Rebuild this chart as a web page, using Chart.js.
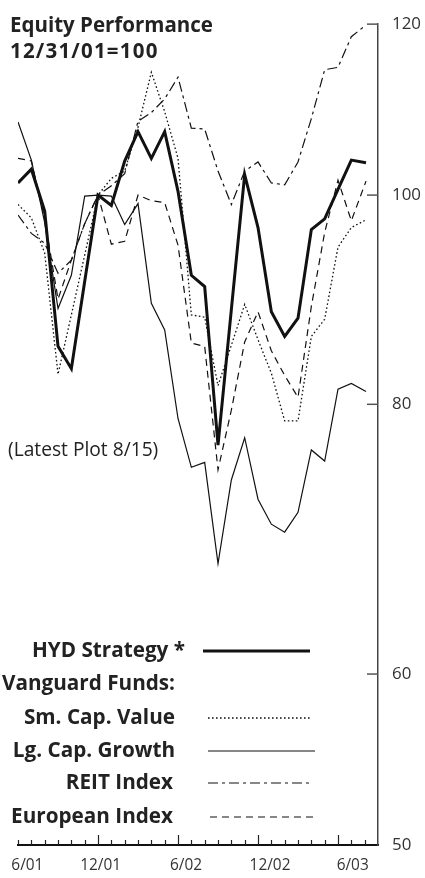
<!DOCTYPE html>
<html><head><meta charset="utf-8">
<style>html,body{margin:0;padding:0;background:#fff;}canvas{display:block;}</style>
<script src="https://cdn.jsdelivr.net/npm/chart.js@4.4.1/dist/chart.umd.min.js"></script>
</head><body>
<canvas id="c" width="425" height="878"></canvas>
<script>
// months since 6/30/01 (last point = latest plot 8/15/03)
const months = [0,1,2,3,4,5,6,7,8,9,10,11,12,13,14,15,16,17,18,19,20,21,22,23,24,25,26.1];
const hydStrategy   = [101.3,102.8,98.3,85.1,83.1,91.2,100,98.9,103.7,107.0,104.0,107.0,100.4,91.8,90.7,76.6,88.5,102.2,96.6,88.3,86.0,87.7,96.4,97.5,100.6,103.8,103.5];
const smCapValue    = [99.0,97.6,94.0,82.6,88.0,93.8,100,101.8,102.6,107.5,114.0,109.3,104.0,88.0,87.8,81.6,85.2,89.0,85.7,82.7,78.6,78.6,86.0,87.6,94.6,96.6,97.4];
const lgCapGrowth   = [108.1,103.8,97.1,88.6,91.8,99.9,100,99.9,96.9,99.1,89.1,86.6,78.8,74.8,75.2,67.5,73.8,77.2,72.3,70.4,69.8,71.3,76.2,75.3,81.3,81.8,81.1];
const reitIndex     = [97.9,96.0,95.0,92.0,93.3,97.0,100,101.0,102.3,108.2,109.2,110.8,113.4,107.4,107.3,102.6,99.0,102.6,103.6,101.3,101.1,103.6,108.5,114.3,114.6,118.4,119.9];
const europeanIndex = [104.0,103.7,97.5,89.5,93.3,97.0,100,94.9,95.2,100,99.4,99.2,94.8,85.4,85.1,74.6,79.5,85.5,88.3,84.7,82.5,80.6,88.8,96.1,101.6,97.3,101.5];
const seriesNames = ['HYD Strategy *','Sm. Cap. Value','Lg. Cap. Growth','REIT Index','European Index'];
const legendHeader = 'Vanguard Funds:';
const yTickValues = [50,60,80,100,120];
const xTickLabels = ['6/01','12/01','6/02','12/02','6/03'];
const xTickAt = [0.7,6.2,12.6,18.9,25.1];
const titleLines = ['Equity Performance','12/31/01=100'];
const noteText = '(Latest Plot 8/15)';

const FAMILY = '"Open Sans"';
const mctx = document.createElement('canvas').getContext('2d');
function fitSize(text, weight, target){
  mctx.font = weight + ' 100px ' + FAMILY;
  return Math.round(target / mctx.measureText(text).width * 1000) / 10;
}
const titleSize  = fitSize(titleLines[0], 'bold', 203);
const legendSize = fitSize(legendHeader, 'bold', 173);
const noteSize   = fitSize(noteText, 'normal', 150);
const xTickSize  = fitSize('12/01', 'normal', 41);
const yTickSize  = fitSize('120', 'normal', 29);

const pts = arr => arr.map((v,i)=>({x:months[i], y:v}));
const INK = '#111';

const styles = [
  {borderWidth:3, borderDash:[]},
  {borderWidth:1.3, borderDash:[1.6,2.4]},
  {borderWidth:1.2, borderDash:[]},
  {borderWidth:1.2, borderDash:[10,4,3,4]},
  {borderWidth:1.2, borderDash:[7,5]}
];
const seriesData = [hydStrategy, smCapValue, lgCapGrowth, reitIndex, europeanIndex];

const datasets = seriesData.map((arr,k)=>({
  label: seriesNames[k],
  data: pts(arr),
  borderColor: INK,
  backgroundColor: INK,
  borderWidth: styles[k].borderWidth,
  borderDash: styles[k].borderDash,
  pointRadius: 0,
  tension: 0,
  fill: false,
  borderJoinStyle: 'miter'
}));

const decor = {
  id:'decor',
  afterDraw(chart){
    const ctx = chart.ctx, xs = chart.scales.x, ys = chart.scales.y, ca = chart.chartArea;
    ctx.save();
    ctx.strokeStyle = '#222'; ctx.lineWidth = 1.2; ctx.setLineDash([]);
    for (let m=0; m<27; m++){
      const px = Math.round(xs.getPixelForValue(m))+0.5;
      const len = (m%6===0 && m>0) ? 10 : 5;
      ctx.beginPath(); ctx.moveTo(px, ca.bottom); ctx.lineTo(px, ca.bottom-len); ctx.stroke();
    }
    ctx.strokeStyle = '#555'; ctx.lineWidth = 1.5;
    yTickValues.forEach(v=>{
      if (v===yTickValues[0]) return;
      const py = ys.getPixelForValue(v);
      ctx.beginPath(); ctx.moveTo(ca.right-11, py); ctx.lineTo(ca.right, py); ctx.stroke();
    });
    ctx.fillStyle = '#222';
    ctx.font = 'bold ' + titleSize + 'px ' + FAMILY;
    ctx.textAlign = 'left'; ctx.textBaseline = 'alphabetic';
    ctx.fillText(titleLines[0], 10, 32);
    ctx.letterSpacing = '1.2px';
    ctx.fillText(titleLines[1], 10, 58);
    ctx.letterSpacing = '0px';
    ctx.font = 'normal ' + noteSize + 'px ' + FAMILY;
    ctx.fillText(noteText, 8, 456);
    ctx.font = 'bold ' + legendSize + 'px ' + FAMILY;
    ctx.textAlign = 'right';
    const rows = [
      {ds:0, text:seriesNames[0], base:657, tx:185, x0:203, x1:310},
      {ds:null, text:legendHeader, base:690, tx:175},
      {ds:1, text:seriesNames[1], base:724, tx:175, x0:208, x1:312},
      {ds:2, text:seriesNames[2], base:757, tx:175, x0:208, x1:315},
      {ds:3, text:seriesNames[3], base:789, tx:173, x0:208, x1:310},
      {ds:4, text:seriesNames[4], base:823, tx:173, x0:210, x1:313}
    ];
    rows.forEach(r=>{
      ctx.fillStyle = '#222';
      ctx.fillText(r.text, r.tx, r.base);
      if (r.ds!==null){
        const d = chart.data.datasets[r.ds];
        ctx.strokeStyle = INK; ctx.lineWidth = d.borderWidth;
        ctx.setLineDash(d.borderDash||[]);
        const ly = r.base-6;
        ctx.beginPath(); ctx.moveTo(r.x0, ly); ctx.lineTo(r.x1, ly); ctx.stroke();
      }
    });
    ctx.restore();
  }
};

new Chart(document.getElementById('c'), {
  type:'line',
  data:{datasets},
  plugins:[decor],
  options:{
    responsive:false, animation:false, devicePixelRatio:1,
    layout:{padding:{left:13, top:14, right:0, bottom:0}},
    plugins:{legend:{display:false}, tooltip:{enabled:false}, title:{display:false}},
    scales:{
      x:{
        type:'linear', min:0, max:27, position:'bottom',
        grid:{display:false, drawTicks:false},
        border:{display:true, color:'#111', width:2},
        afterBuildTicks: s => { s.ticks = xTickAt.map(v=>({value:v})); },
        afterFit: s => { s.height = 33; },
        ticks:{autoSkip:false, maxRotation:0, padding:11, color:'#333',
          font:{family:'Open Sans', size:xTickSize},
          callback:(v,i)=> xTickLabels[i]}
      },
      y:{
        type:'logarithmic', min:50, max:120, position:'right',
        grid:{display:false, drawTicks:false},
        border:{display:true, color:'#444', width:1.5},
        afterBuildTicks: s => { s.ticks = yTickValues.map(v=>({value:v})); },
        afterFit: s => { s.width = 47; },
        ticks:{autoSkip:false, padding:14, color:'#333',
          font:{family:'Open Sans', size:yTickSize},
          callback:(v)=> String(v)}
      }
    }
  }
});
</script>
</body></html>
